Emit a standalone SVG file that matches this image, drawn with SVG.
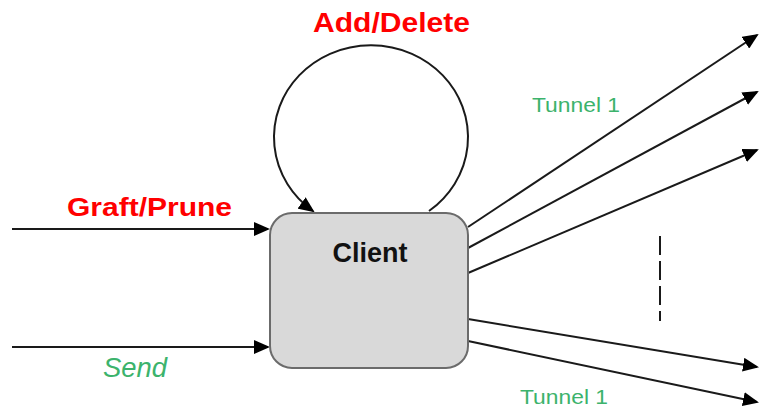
<svg xmlns="http://www.w3.org/2000/svg" width="759" height="415" viewBox="0 0 759 415">
<style>
.ln{stroke:#1a1a1a;stroke-width:2;fill:none;marker-end:url(#ah)}
.red{font-family:"Liberation Sans",Arial,sans-serif;font-weight:bold;fill:#ff0000}
.grn{font-family:"Liberation Sans",Arial,sans-serif;fill:#3cb36c}
</style>
<defs>
<marker id="ah" markerWidth="8" markerHeight="7" refX="7" refY="3.5" orient="auto" markerUnits="strokeWidth">
<path d="M0,0 L8,3.5 L0,7 z" fill="#000"/>
</marker>
</defs>
<rect width="759" height="415" fill="#fff"/>
<g id="connectors">
<line class="ln" x1="12" y1="229" x2="268" y2="229"/>
<line class="ln" x1="12" y1="347" x2="268" y2="347"/>
<path class="ln" d="M429,211 A97,92 0 1 0 313,211"/>
<line class="ln" x1="468" y1="227" x2="757" y2="35"/>
<line class="ln" x1="468" y1="248" x2="757" y2="92"/>
<line class="ln" x1="468" y1="273" x2="757" y2="150"/>
<line class="ln" x1="468" y1="319" x2="757" y2="367"/>
<line class="ln" x1="468" y1="341" x2="757" y2="402"/>
<line x1="660" y1="236" x2="660" y2="321" stroke="#1a1a1a" stroke-width="2" stroke-dasharray="19 6"/>
</g>
<g id="client">
<rect x="270" y="213" width="198" height="155" rx="22" ry="22" fill="#d9d9d9" stroke="#6b6b6b" stroke-width="2"/>
<text x="370" y="262" text-anchor="middle" font-family="'Liberation Sans',Arial,sans-serif" font-weight="bold" font-size="27" fill="#111">Client</text>
</g>
<g id="labels">
<text class="red" x="313" y="32" font-size="28" textLength="157" lengthAdjust="spacingAndGlyphs">Add/Delete</text>
<text class="red" x="67" y="216" font-size="25" textLength="165" lengthAdjust="spacingAndGlyphs">Graft/Prune</text>
<text class="grn" x="103" y="377" font-size="27" font-style="italic" textLength="64" lengthAdjust="spacingAndGlyphs">Send</text>
<text class="grn" x="532" y="112" font-size="20" textLength="88" lengthAdjust="spacingAndGlyphs">Tunnel 1</text>
<text class="grn" x="520" y="404" font-size="21" textLength="88" lengthAdjust="spacingAndGlyphs">Tunnel 1</text>
</g>
</svg>
